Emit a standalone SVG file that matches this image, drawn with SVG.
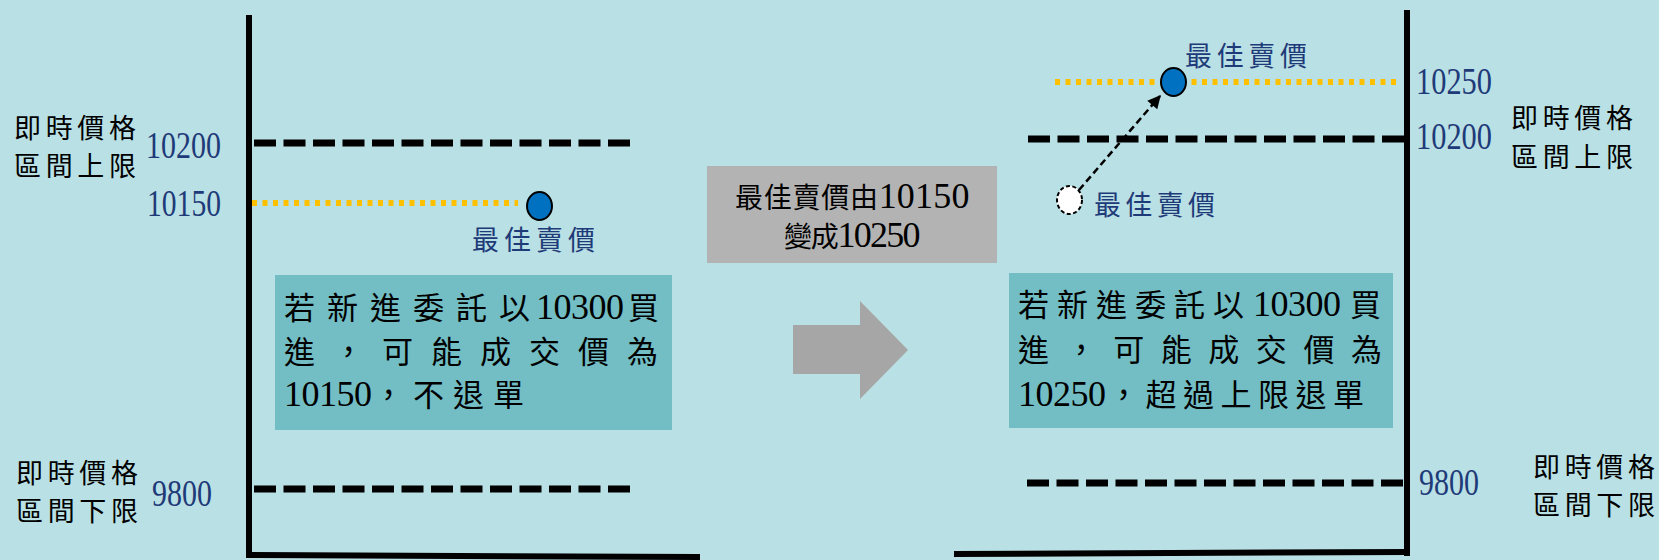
<svg xmlns="http://www.w3.org/2000/svg" width="1659" height="560" viewBox="0 0 1659 560">
<defs>
<style>
.bg{fill:#B9E0E4}
.axis{stroke:#000;stroke-width:6;fill:none}
.lim{stroke:#000;stroke-width:7;stroke-dasharray:22 7.5;fill:none}
.best{stroke:#FFC000;stroke-width:6;stroke-dasharray:5 5.5;fill:none}
.lbl{font-family:"Noto Sans CJK TC","Noto Sans CJK SC",sans-serif;font-size:27px;fill:#000}
.num{font-family:"Liberation Serif","Times New Roman",serif;font-size:37px;fill:#1F3A78}
.blbl{font-family:"Noto Sans CJK TC","Noto Sans CJK SC",sans-serif;font-size:27px;fill:#1F3A78}
.box{fill:#72BEC4}
.btxt{font-family:"Noto Sans CJK TC","Noto Sans CJK SC",sans-serif;font-size:31px;fill:#000}
.d{font-family:"Liberation Serif","Times New Roman",serif;font-size:36px;letter-spacing:-0.5px}
.gbox{fill:#B3B3B3}
.gtxt{font-family:"Noto Sans CJK TC","Noto Sans CJK SC",sans-serif;font-size:28px;fill:#000}
.dot{fill:#0070C0;stroke:#000;stroke-width:2}
</style>
<marker id="ah" viewBox="0 0 10 10" refX="9" refY="5" markerWidth="6" markerHeight="6" markerUnits="userSpaceOnUse" orient="auto" style="overflow:visible">
<path d="M0,0 L10,5 L0,10 Z" fill="#000" transform="scale(2.2)" transform-origin="9 5"/>
</marker>
</defs>
<rect class="bg" x="0" y="0" width="1659" height="560"/>

<g id="left-panel">
<line class="axis" x1="249" y1="15" x2="249" y2="557"/>
<line class="axis" x1="246" y1="555" x2="700" y2="557"/>
<line class="lim" x1="254" y1="143" x2="630" y2="143"/>
<line class="lim" x1="254" y1="489" x2="630" y2="489"/>
<line class="best" x1="252" y1="203" x2="518" y2="203"/>
</g>

<g id="left-upper-label">
<text class="lbl" x="14" y="138" textLength="122" lengthAdjust="spacing">即時價格</text>
<text class="lbl" x="14" y="176" textLength="122" lengthAdjust="spacing">區間上限</text>
<text class="num" x="146" y="158" textLength="75" lengthAdjust="spacingAndGlyphs">10200</text>
</g>
<g id="left-best-price">
<text class="num" x="147" y="216" textLength="74" lengthAdjust="spacingAndGlyphs">10150</text>
<ellipse class="dot" cx="539.5" cy="206" rx="12.5" ry="14"/>
<text class="blbl" x="472" y="250" textLength="123" lengthAdjust="spacing">最佳賣價</text>
</g>
<g id="left-lower-label">
<text class="lbl" x="16" y="483" textLength="122" lengthAdjust="spacing">即時價格</text>
<text class="lbl" x="16" y="521" textLength="122" lengthAdjust="spacing">區間下限</text>
<text class="num" x="152" y="506" textLength="60" lengthAdjust="spacingAndGlyphs">9800</text>
</g>
<g id="left-note">
<rect class="box" x="275" y="275" width="397" height="155"/>
<text class="btxt" y="319"><tspan x="284" letter-spacing="12">若新進委託以</tspan><tspan class="d" x="536">10300</tspan><tspan x="628">買</tspan></text>
<text class="btxt" x="284" y="363" textLength="374" lengthAdjust="spacing">進，可能成交價為</text>
<text class="btxt" y="406"><tspan class="d" x="284">10150</tspan><tspan x="373" letter-spacing="9">，不退單</tspan></text>
</g>

<g id="change-note">
<rect class="gbox" x="707" y="166" width="290" height="97"/>
<text class="gtxt" x="852" y="208" text-anchor="middle" textLength="234" lengthAdjust="spacing">最佳賣價由<tspan class="d">10150</tspan></text>
<text class="gtxt" x="852" y="247" text-anchor="middle" textLength="136" lengthAdjust="spacing">變成<tspan class="d">10250</tspan></text>
</g>
<g id="big-arrow">
<polygon points="793,325 860,325 860,301 908,350 860,399 860,374 793,374" fill="#A6A6A6"/>
</g>

<g id="right-panel">
<line class="axis" x1="1407" y1="10" x2="1407" y2="556"/>
<line class="axis" x1="954" y1="554" x2="1410" y2="552"/>
<line class="lim" x1="1028" y1="139" x2="1404" y2="139"/>
<line class="lim" x1="1027" y1="483" x2="1404" y2="483"/>
<line class="best" x1="1055" y1="82" x2="1397" y2="82"/>
</g>
<g id="right-upper-label">
<text class="num" x="1416" y="94" textLength="76" lengthAdjust="spacingAndGlyphs">10250</text>
<text class="num" x="1416" y="149" textLength="76" lengthAdjust="spacingAndGlyphs">10200</text>
<text class="lbl" x="1511" y="128" textLength="122" lengthAdjust="spacing">即時價格</text>
<text class="lbl" x="1511" y="167" textLength="122" lengthAdjust="spacing">區間上限</text>
</g>
<g id="right-lower-label">
<text class="num" x="1419" y="495" textLength="60" lengthAdjust="spacingAndGlyphs">9800</text>
<text class="lbl" x="1533" y="477" textLength="122" lengthAdjust="spacing">即時價格</text>
<text class="lbl" x="1533" y="515" textLength="122" lengthAdjust="spacing">區間下限</text>
</g>
<g id="old-best-price">
<ellipse cx="1069.5" cy="200" rx="12.5" ry="14" fill="#fff" stroke="#000" stroke-width="2" stroke-dasharray="4 2.5"/>
<text class="blbl" x="1094" y="215" textLength="121" lengthAdjust="spacing">最佳賣價</text>
</g>
<g id="new-best-price">
<ellipse class="dot" cx="1173.5" cy="82" rx="12.5" ry="14"/>
<text class="blbl" x="1185" y="66" textLength="122" lengthAdjust="spacing">最佳賣價</text>
</g>
<g id="right-note">
<rect class="box" x="1009" y="273" width="384" height="155"/>
<text class="btxt" y="316"><tspan x="1018" letter-spacing="8">若新進委託以</tspan><tspan class="d" x="1253">10300</tspan><tspan x="1350">買</tspan></text>
<text class="btxt" x="1018" y="361" textLength="364" lengthAdjust="spacing">進，可能成交價為</text>
<text class="btxt" y="406"><tspan class="d" x="1018">10250</tspan><tspan x="1108" letter-spacing="6.5">，超過上限退單</tspan></text>
</g>

<g id="connectors">
<line x1="1079" y1="190" x2="1160" y2="96" stroke="#000" stroke-width="2.5" stroke-dasharray="7 4" marker-end="url(#ah)"/>
</g>
</svg>
